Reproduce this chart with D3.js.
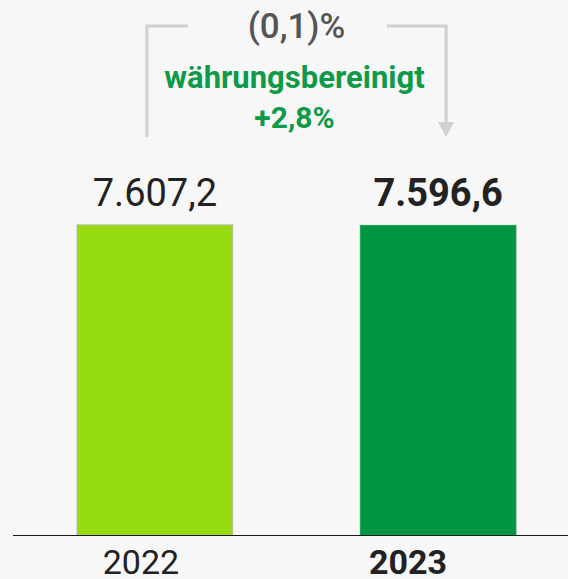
<!DOCTYPE html>
<html lang="de">
<head>
<meta charset="UTF-8">
<title>Umsatz 2022 / 2023</title>
<script src="https://d3js.org/d3.v7.min.js"></script>
<style>
  body { margin: 0; background: #f7f7f7; }
  svg { display: block; font-family: Roboto, "Noto Sans", sans-serif; }
</style>
</head>
<body>
<svg id="chart" width="568" height="579"></svg>
<script>
// data
var years = ["2022", "2023"];
var values = [7607.2, 7596.6];
var valueLabels = ["7.607,2", "7.596,6"];
var barColors = ["#97dc12", "#009540"];
var changeLabel = "(0,1)%";
var fxLabel = "währungsbereinigt";
var fxChange = "+2,8%";

var svg = d3.select("#chart"),
    width = +svg.attr("width"),
    height = +svg.attr("height");

var baseY = 535;

var x = d3.scaleBand()
    .domain(years)
    .range([13, 580])
    .paddingInner(0.45)
    .paddingOuter(0.226);

var y = d3.scaleLinear()
    .domain([0, 7800])
    .range([baseY, 217]);

// bars
svg.selectAll("rect.bar")
  .data(years)
  .enter()
  .append("rect")
    .attr("class", "bar")
    .attr("x", function(d){ return x(d) })
    .attr("y", function(d, i){ return y(values[i]) })
    .attr("width", x.bandwidth())
    .attr("height", function(d, i){ return y(0) - y(values[i]) })
    .attr("fill", function(d, i){ return barColors[i] })
    .attr("stroke", function(d, i){ return i == 0 ? "#b4b4b4" : "#1aa452" })
    .attr("stroke-width", 0.8)

// baseline
svg.append("line")
    .attr("x1", 13)
    .attr("x2", width)
    .attr("y1", baseY + 0.5)
    .attr("y2", baseY + 0.5)
    .attr("stroke", "#1a1a1a")
    .attr("stroke-width", 1.2)

// value labels
svg.selectAll("text.val")
  .data(years)
  .enter()
  .append("text")
    .attr("class", "val")
    .attr("x", function(d){ return x(d) + x.bandwidth() / 2 })
    .attr("y", function(d, i){ return y(values[i]) - 19 })
    .attr("text-anchor", "middle")
    .style("font-size", "38px")
    .style("font-weight", function(d, i){ return i == 1 ? 700 : 400 })
    .attr("fill", "#222")
    .text(function(d, i){ return valueLabels[i] })

// year labels (sit low, as in the original)
var yearShift = [-14, -30];
svg.selectAll("text.year")
  .data(years)
  .enter()
  .append("text")
    .attr("class", "year")
    .attr("x", function(d, i){ return x(d) + x.bandwidth() / 2 + yearShift[i] })
    .attr("y", 574)
    .attr("text-anchor", "middle")
    .style("font-size", "34px")
    .style("font-weight", function(d, i){ return i == 1 ? 700 : 400 })
    .attr("fill", "#222")
    .text(function(d){ return d })

// change bracket
var xl = x(years[0]) + x.bandwidth() / 2 - 8,
    xr = x(years[1]) + x.bandwidth() / 2 + 8,
    topY = 26;

svg.append("path")
    .attr("d", "M" + xl + "," + 137 + "V" + topY + "H" + 188)
    .attr("fill", "none")
    .attr("stroke", "#d0d0d0")
    .attr("stroke-width", 3)

svg.append("path")
    .attr("d", "M" + 387 + "," + topY + "H" + xr + "V" + 122)
    .attr("fill", "none")
    .attr("stroke", "#d0d0d0")
    .attr("stroke-width", 3)

svg.append("path")
    .attr("d", "M" + (xr - 8) + ",122L" + (xr + 8) + ",122L" + xr + ",137Z")
    .attr("fill", "#d0d0d0")

var midX = (xl + xr) / 2;

svg.append("text")
    .attr("x", midX)
    .attr("y", 38)
    .attr("text-anchor", "middle")
    .style("font-size", "35px")
    .style("font-weight", 500)
    .attr("fill", "#555")
    .text(changeLabel)

svg.append("text")
    .attr("x", midX - 2)
    .attr("y", 88)
    .attr("text-anchor", "middle")
    .style("font-size", "31px")
    .style("font-weight", 700)
    .attr("fill", "#0e9a48")
    .text(fxLabel)

svg.append("text")
    .attr("x", midX - 2)
    .attr("y", 128)
    .attr("text-anchor", "middle")
    .style("font-size", "30px")
    .style("font-weight", 700)
    .attr("fill", "#0e9a48")
    .text(fxChange)
</script>
</body>
</html>
